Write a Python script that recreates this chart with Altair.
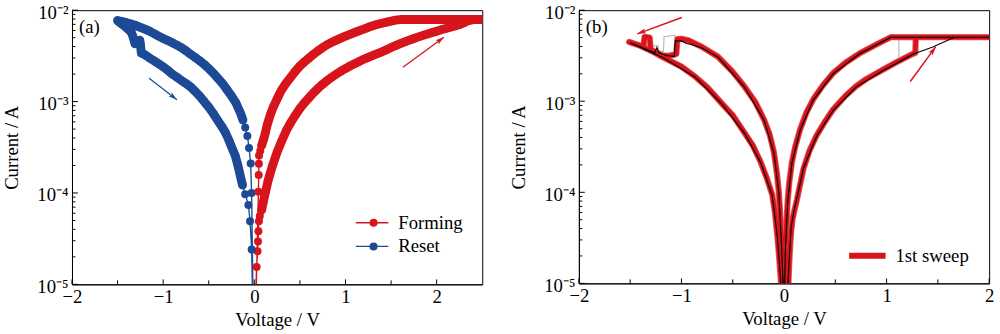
import altair as alt
import pandas as pd

RED = "#d7141c"
BLUE = "#1d4a97"
SERIF = "Liberation Serif"

# ---------------- panel (a) data ----------------
forming_up_v = [0.015, 0.025, 0.035, 0.04, 0.045, 0.05, 0.06, 0.08, 0.10, 0.125,
                0.15, 0.175, 0.20, 0.25, 0.30, 0.35, 0.40, 0.45, 0.50, 0.55,
                0.60, 0.65, 0.70, 0.75, 0.80, 0.85, 0.90, 0.95, 1.00, 1.05,
                1.10, 1.15, 1.20, 1.25, 1.30, 1.35, 1.40, 1.45, 1.50, 1.55,
                1.60, 1.65, 1.70, 1.75, 1.80, 1.85, 1.90, 1.95, 2.00, 2.05,
                2.10, 2.15, 2.20, 2.25, 2.30, 2.35, 2.40, 2.45, 2.50]
forming_up_i = [8e-6, 1.55e-5, 2.3e-5, 2.95e-5, 3.8e-5, 4.9e-5, 5.6e-5, 6.5e-5, 8.1e-5, 1.05e-4,
                1.35e-4, 1.65e-4, 2.0e-4, 2.8e-4, 3.7e-4, 4.8e-4, 5.9e-4, 7.1e-4, 8.4e-4, 9.7e-4,
                1.1e-3, 1.25e-3, 1.4e-3, 1.55e-3, 1.7e-3, 1.85e-3, 2.0e-3, 2.15e-3, 2.3e-3, 2.45e-3,
                2.6e-3, 2.75e-3, 2.9e-3, 3.05e-3, 3.2e-3, 3.35e-3, 3.5e-3, 3.7e-3, 3.9e-3, 4.1e-3,
                4.3e-3, 4.5e-3, 4.7e-3, 4.9e-3, 5.1e-3, 5.3e-3, 5.5e-3, 5.7e-3, 5.9e-3, 6.1e-3,
                6.3e-3, 6.5e-3, 6.7e-3, 6.95e-3, 7.3e-3, 7.7e-3, 7.9e-3, 7.9e-3, 7.9e-3]
forming_down_v = [2.45, 2.40, 2.35, 2.30, 2.25, 2.20, 2.15, 2.10, 2.05, 2.00,
                  1.95, 1.90, 1.85, 1.80, 1.75, 1.70, 1.65, 1.60, 1.55, 1.50,
                  1.45, 1.40, 1.35, 1.30, 1.25, 1.20, 1.15, 1.10, 1.05, 1.00,
                  0.95, 0.90, 0.85, 0.80, 0.75, 0.70, 0.65, 0.60, 0.55, 0.50,
                  0.45, 0.40, 0.35, 0.30, 0.27, 0.24, 0.21, 0.18, 0.16, 0.14,
                  0.12, 0.10, 0.08, 0.065, 0.052, 0.050, 0.048, 0.045, 0.02]
forming_down_i = [7.9e-3, 7.9e-3, 7.9e-3, 7.9e-3, 7.9e-3, 7.9e-3, 7.9e-3, 7.9e-3, 7.9e-3, 7.9e-3,
                  7.9e-3, 7.9e-3, 7.9e-3, 7.9e-3, 7.9e-3, 7.9e-3, 7.9e-3, 7.9e-3, 7.8e-3, 7.6e-3,
                  7.4e-3, 7.2e-3, 7.0e-3, 6.75e-3, 6.5e-3, 6.2e-3, 5.95e-3, 5.7e-3, 5.45e-3, 5.2e-3,
                  4.95e-3, 4.7e-3, 4.45e-3, 4.2e-3, 3.9e-3, 3.6e-3, 3.3e-3, 3.0e-3, 2.72e-3, 2.45e-3,
                  2.15e-3, 1.85e-3, 1.6e-3, 1.35e-3, 1.18e-3, 1.02e-3, 8.8e-4, 7.4e-4, 6.4e-4, 5.5e-4,
                  4.5e-4, 3.8e-4, 3.3e-4, 2.9e-4, 2.57e-4, 2.09e-4, 1.57e-4, 1.03e-4, 8e-6]

reset_out_v = [-0.015, -0.03, -0.04, -0.058, -0.076, -0.10, -0.125, -0.15, -0.20, -0.25,
               -0.30, -0.35, -0.40, -0.45, -0.50, -0.55, -0.60, -0.65, -0.70, -0.75,
               -0.80, -0.85, -0.90, -0.95, -1.00, -1.05, -1.10, -1.15, -1.20, -1.25,
               -1.30, -1.35, -1.40, -1.45, -1.50]
reset_out_i = [8e-6, 1.0e-4, 2.1e-4, 3.1e-4, 4.2e-4, 5.2e-4, 6.3e-4, 7.4e-4, 9.6e-4, 1.15e-3,
               1.35e-3, 1.58e-3, 1.8e-3, 2.05e-3, 2.3e-3, 2.55e-3, 2.8e-3, 3.05e-3, 3.3e-3, 3.6e-3,
               3.9e-3, 4.15e-3, 4.4e-3, 4.65e-3, 4.9e-3, 5.2e-3, 5.55e-3, 5.9e-3, 6.2e-3, 6.5e-3,
               6.8e-3, 7.05e-3, 7.3e-3, 7.5e-3, 7.7e-3]
reset_back_v = [-1.48, -1.44, -1.40, -1.36, -1.348, -1.33, -1.31, -1.28, -1.257, -1.25,
                -1.24, -1.20, -1.15, -1.10, -1.05, -1.00, -0.95, -0.90, -0.85, -0.80,
                -0.75, -0.70, -0.65, -0.60, -0.55, -0.50, -0.45, -0.40, -0.35, -0.318,
                -0.28, -0.25, -0.21, -0.18, -0.156, -0.13, -0.10, -0.065, -0.047, -0.029,
                -0.02]
reset_back_i = [7.4e-3, 6.9e-3, 6.4e-3, 5.9e-3, 5.7e-3, 5.1e-3, 4.3e-3, 4.5e-3, 4.7e-3, 4.3e-3,
                3.4e-3, 3.25e-3, 3.0e-3, 2.8e-3, 2.6e-3, 2.4e-3, 2.2e-3, 2.0e-3, 1.85e-3, 1.7e-3,
                1.58e-3, 1.45e-3, 1.3e-3, 1.15e-3, 1.0e-3, 8.7e-4, 7.4e-4, 6.2e-4, 5.2e-4, 4.6e-4,
                3.8e-4, 3.2e-4, 2.57e-4, 2.0e-4, 1.57e-4, 1.22e-4, 9.7e-5, 7.4e-5, 4.9e-5, 2.4e-5,
                8e-6]

# ---------------- panel (b) data ----------------
sweep1_v = [0.04, 0.05, 0.06, 0.07, 0.085, 0.10, 0.125, 0.15, 0.19, 0.25,
            0.317, 0.40, 0.478, 0.60, 0.702, 0.80, 0.959, 1.10, 1.263, 1.28,
            1.285, 2.0, 1.04, 0.90, 0.734, 0.60, 0.478, 0.38, 0.285, 0.22,
            0.157, 0.11, 0.077, 0.05, 0.035, 0.02, 0.012, 0.004,
            -0.005, -0.015, -0.029, -0.04, -0.051, -0.07, -0.099, -0.14, -0.195, -0.28,
            -0.388, -0.50, -0.644, -0.80, -0.933, -1.0, -1.04, -1.05, -1.12, -1.19,
            -1.25, -1.30, -1.31, -1.36, -1.37, -1.45, -1.51,
            -1.40, -1.30, -1.19, -1.0, -0.868, -0.75, -0.612, -0.50, -0.388, -0.30,
            -0.228, -0.17, -0.115, -0.09, -0.067, -0.05, -0.036, -0.025]
sweep1_i = [8e-6, 1.6e-5, 2.6e-5, 3.8e-5, 5.2e-5, 6.2e-5, 8.2e-5, 1.12e-4, 1.82e-4, 2.9e-4,
            4.2e-4, 6.0e-4, 8.1e-4, 1.15e-3, 1.46e-3, 1.75e-3, 2.2e-3, 2.7e-3, 3.34e-3, 3.4e-3,
            5.05e-3, 5.05e-3, 5.05e-3, 4.2e-3, 3.34e-3, 2.65e-3, 2.03e-3, 1.5e-3, 1.05e-3, 7.6e-4,
            4.9e-4, 3.2e-4, 2.15e-4, 1.25e-4, 7.9e-5, 3.8e-5, 2.3e-5, 8e-6,
            8e-6, 1.6e-5, 3.5e-5, 6.5e-5, 1.02e-4, 1.65e-4, 2.77e-4, 4.3e-4, 6.3e-4, 9.8e-4,
            1.46e-3, 2.1e-3, 3.08e-3, 3.95e-3, 4.66e-3, 4.85e-3, 4.8e-3, 3.3e-3, 3.15e-3, 3.2e-3,
            3.45e-3, 3.7e-3, 5.0e-3, 5.1e-3, 4.0e-3, 4.25e-3, 4.47e-3,
            4.05e-3, 3.6e-3, 3.08e-3, 2.4e-3, 1.87e-3, 1.43e-3, 9.6e-4, 7.0e-4, 4.55e-4, 3.2e-4,
            2.15e-4, 1.45e-4, 9.4e-5, 6.2e-5, 3.5e-5, 2.1e-5, 1.3e-5, 8e-6]

black_v = [0.035, 0.05, 0.07, 0.10, 0.15, 0.19, 0.317, 0.478, 0.702, 0.959,
           1.263, 1.45, 1.663, 2.0, 1.04, 0.90, 0.734, 0.478, 0.285, 0.157,
           0.077, 0.035, 0.012, 0.005,
           -0.005, -0.029, -0.051, -0.099, -0.195, -0.388, -0.644, -0.80, -0.90, -0.95,
           -1.0, -1.06, -1.07, -1.15, -1.22, -1.24, -1.26, -1.40, -1.50,
           -1.19, -0.868, -0.612, -0.388, -0.228, -0.115, -0.067, -0.036, -0.025]
black_i = [8e-6, 1.8e-5, 4.2e-5, 6.5e-5, 1.15e-4, 1.85e-4, 4.1e-4, 7.9e-4, 1.43e-3, 2.15e-3,
           3.3e-3, 3.95e-3, 5.05e-3, 5.05e-3, 5.05e-3, 4.15e-3, 3.3e-3, 2.0e-3, 1.03e-3, 4.8e-4,
           2.1e-4, 7.6e-5, 2.2e-5, 8e-6,
           8e-6, 3.4e-5, 1.0e-4, 2.7e-4, 6.2e-4, 1.44e-3, 3.05e-3, 3.85e-3, 4.2e-3, 4.3e-3,
           4.6e-3, 4.6e-3, 3.1e-3, 3.2e-3, 3.4e-3, 3.9e-3, 3.4e-3, 3.95e-3, 4.4e-3,
           3.05e-3, 1.85e-3, 9.5e-4, 4.5e-4, 2.12e-4, 9.2e-5, 3.4e-5, 1.25e-5, 8e-6]

gray_v = [-1.0, -1.04, -1.05, -1.06, -1.065, -1.17, -1.175, -1.22, -1.23, -1.29, -1.30, -1.50]
gray_i = [4.7e-3, 4.6e-3, 3.4e-3, 3.35e-3, 5.3e-3, 5.1e-3, 3.5e-3, 3.6e-3, 4.1e-3, 4.0e-3, 3.7e-3, 4.45e-3]
gray2_v = [0.959, 1.12, 1.12, 2.0]
gray2_i = [2.2e-3, 2.8e-3, 5.05e-3, 5.05e-3]
gray3_v = [1.263, 1.30, 1.30]
gray3_i = [3.3e-3, 3.45e-3, 5.05e-3]

# arrows: start V, end V, start I, end I
arrow_a_red = [1.63, 2.08, 2.37e-3, 5.07e-3]
arrow_a_blue = [-1.154, -0.849, 1.8e-3, 1.05e-3]
arrow_b_left = [-0.997, -1.43, 8.3e-3, 5.5e-3]
arrow_b_right = [1.231, 1.478, 1.65e-3, 3.95e-3]

# axis tick positions
y_major = [1e-5, 1e-4, 1e-3, 1e-2]
y_mant = [2, 3, 4, 5, 6, 7, 8, 9]
y_minor = [m * d for d in [1e-5, 1e-4, 1e-3] for m in y_mant]
x_major = [-2, -1, 0, 1, 2]
x_minor = [-1.5, -0.5, 0.5, 1.5]

W, H = 416, 278

ylabel = ("'10' + (round(log(datum.value)/LN10) == -2 ? '⁻²' : "
          "round(log(datum.value)/LN10) == -3 ? '⁻³' : "
          "round(log(datum.value)/LN10) == -4 ? '⁻⁴' : '⁻⁵')")
YA = alt.Axis(title="Current / A", values=y_major, labelExpr=ylabel, ticks=False,
              labelPadding=4, labelOffset=2, titlePadding=16, labelFlush=False)
XA = alt.Axis(title="Voltage / V", values=x_major, format="d", ticks=False,
              labelPadding=3, titlePadding=5, labelFlush=False)
YS = alt.Scale(type="log", domain=[1e-5, 1e-2], nice=False)


def series_df(parts):
    frames = []
    for name, v, i in parts:
        frames.append(pd.DataFrame({"V": v, "I": i, "series": name, "idx": list(range(len(v)))}))
    return pd.concat(frames, ignore_index=True)


def tick_layers(xs, h):
    ym = alt.Chart(pd.DataFrame({"I": y_major})).mark_rule(color="black", strokeWidth=1).encode(
        y=alt.Y("I:Q", scale=YS, axis=YA), x=alt.value(0), x2=alt.value(6))
    yn = alt.Chart(pd.DataFrame({"I": y_minor})).mark_rule(color="black", strokeWidth=1).encode(
        y=alt.Y("I:Q", scale=YS, axis=YA), x=alt.value(0), x2=alt.value(3.5))
    xm = alt.Chart(pd.DataFrame({"V": x_major})).mark_rule(color="black", strokeWidth=1).encode(
        x=alt.X("V:Q", scale=xs, axis=XA), y=alt.value(h), y2=alt.value(h - 5))
    xn = alt.Chart(pd.DataFrame({"V": x_minor})).mark_rule(color="black", strokeWidth=1).encode(
        x=alt.X("V:Q", scale=xs, axis=XA), y=alt.value(h), y2=alt.value(h - 4))
    return [ym, yn, xm, xn]


def arrow(a, color, angle, xs, width=1.3):
    df = pd.DataFrame({"v0": [a[0]], "v1": [a[1]], "i0": [a[2]], "i1": [a[3]]})
    base = alt.Chart(df)
    line = base.mark_rule(color=color, strokeWidth=width).encode(
        x=alt.X("v0:Q", scale=xs, axis=XA), x2="v1:Q",
        y=alt.Y("i0:Q", scale=YS, axis=YA), y2="i1:Q")
    head = base.mark_point(shape="M0,0L0.5,1.7L0,1.3L-0.5,1.7Z", filled=True, color=color,
                           opacity=1, size=110, angle=angle).encode(
        x=alt.X("v1:Q", scale=xs, axis=XA), y=alt.Y("i1:Q", scale=YS, axis=YA))
    return [line, head]


def panel_label(t):
    return alt.Chart(pd.DataFrame({"t": [t]})).mark_text(
        align="left", baseline="middle", font=SERIF, fontSize=19, color="black").encode(
        text="t:N", x=alt.value(7), y=alt.value(17))


# ---------------- panel (a) ----------------
XS_A = alt.Scale(domain=[-2, 2.5], nice=False, zero=False)
df_a = series_df([
    ("Forming", forming_up_v + forming_down_v, forming_up_i + forming_down_i),
    ("Reset", reset_out_v + reset_back_v, reset_out_i + reset_back_i),
])
dom_a = ["Forming", "Reset"]
base_a = alt.Chart(df_a).encode(
    x=alt.X("V:Q", scale=XS_A, axis=XA),
    y=alt.Y("I:Q", scale=YS, axis=YA),
    order=alt.Order("idx:Q"),
)
band_a = base_a.transform_filter(
    "datum.series == 'Forming' ? abs(datum.V) > 0.07 : abs(datum.V) > 0.11").mark_line(
    strokeWidth=9, strokeCap="round", strokeJoin="round", clip=True).encode(
    color=alt.Color("series:N", scale=alt.Scale(domain=dom_a, range=[RED, BLUE]), legend=None))
line_a = base_a.mark_line(strokeWidth=1.4, clip=True).encode(
    stroke=alt.Stroke("series:N", scale=alt.Scale(domain=dom_a, range=[RED, BLUE]),
                      legend=alt.Legend(title=None, orient="none", legendX=294.8, legendY=206,
                                        symbolType="M-3,0L3,0", symbolSize=121, symbolStrokeWidth=1.5,
                                        labelFont=SERIF, labelFontSize=19, labelColor="black",
                                        labelOffset=17, rowPadding=4, padding=0)))
pts_a = base_a.mark_circle(size=66, opacity=1, clip=True).encode(
    fill=alt.Fill("series:N", scale=alt.Scale(domain=dom_a, range=[RED, BLUE]),
                  legend=alt.Legend(title=None, orient="none", legendX=296.3, legendY=206,
                                    symbolType="circle", symbolSize=66, symbolStrokeWidth=0,
                                    labelFont=SERIF, labelFontSize=19, labelOpacity=0,
                                    labelOffset=17, rowPadding=4, padding=0)))

panel_a = alt.layer(
    band_a, line_a, pts_a,
    *arrow(arrow_a_red, RED, 53.6, XS_A),
    *arrow(arrow_a_blue, BLUE, 128.2, XS_A),
    *tick_layers(XS_A, H),
    panel_label("(a)"),
).resolve_scale(color="independent", stroke="independent", fill="independent").properties(width=W, height=H)

# ---------------- panel (b) ----------------
XS_B = alt.Scale(domain=[-2, 2], nice=False, zero=False)
df_gray = series_df([("g1", gray_v, gray_i), ("g2", gray2_v, gray2_i), ("g3", gray3_v, gray3_i)])
df_red = series_df([("1st sweep", sweep1_v, sweep1_i)])
df_black = series_df([("k", black_v, black_i)])

def base_b(df):
    return alt.Chart(df).encode(
        x=alt.X("V:Q", scale=XS_B, axis=XA),
        y=alt.Y("I:Q", scale=YS, axis=YA),
        order=alt.Order("idx:Q"),
    )

gray_b = base_b(df_gray).mark_line(color="#b4b4b4", strokeWidth=1.1, clip=True).encode(detail="series:N")
halo_b = base_b(df_red).mark_line(color="#e65a5e", strokeWidth=6.3, strokeJoin="round", clip=True)
red_b = base_b(df_red).mark_line(strokeWidth=4.6, strokeJoin="round", clip=True).encode(
    stroke=alt.Stroke("series:N", scale=alt.Scale(domain=["1st sweep"], range=[RED]),
                      legend=alt.Legend(title=None, orient="none", legendX=283, legendY=239.5,
                                        symbolType="M-3,0L3,0", symbolSize=152, symbolStrokeWidth=6,
                                        labelFont=SERIF, labelFontSize=19, labelColor="black",
                                        labelOffset=19, padding=0)))
black_b = base_b(df_black).mark_line(color="black", strokeWidth=1.1, clip=True)

panel_b = alt.layer(
    gray_b, halo_b, red_b, black_b,
    *arrow(arrow_b_left, RED, 249.6, XS_B, 1.5),
    *arrow(arrow_b_right, RED, 36.3, XS_B, 1.5),
    *tick_layers(XS_B, H - 1),
    panel_label("(b)"),
).properties(width=W, height=H - 1)

chart = alt.hconcat(panel_a, panel_b, spacing=25).resolve_scale(
    x="independent", y="independent", stroke="independent", fill="independent", color="independent"
).resolve_legend(stroke="independent", fill="independent", color="independent").properties(
    padding={"left": 1, "top": 0, "right": 5, "bottom": 0}
).configure_view(stroke="black", strokeWidth=1).configure_axis(
    labelFont=SERIF, labelFontSize=19, labelColor="black",
    titleFont=SERIF, titleFontSize=19, titleFontWeight="normal", titleColor="black",
    domainColor="black", domainWidth=1, grid=False,
).configure_legend(labelFont=SERIF)

chart.save("out.html", embed_options={"renderer": "svg", "actions": False})
